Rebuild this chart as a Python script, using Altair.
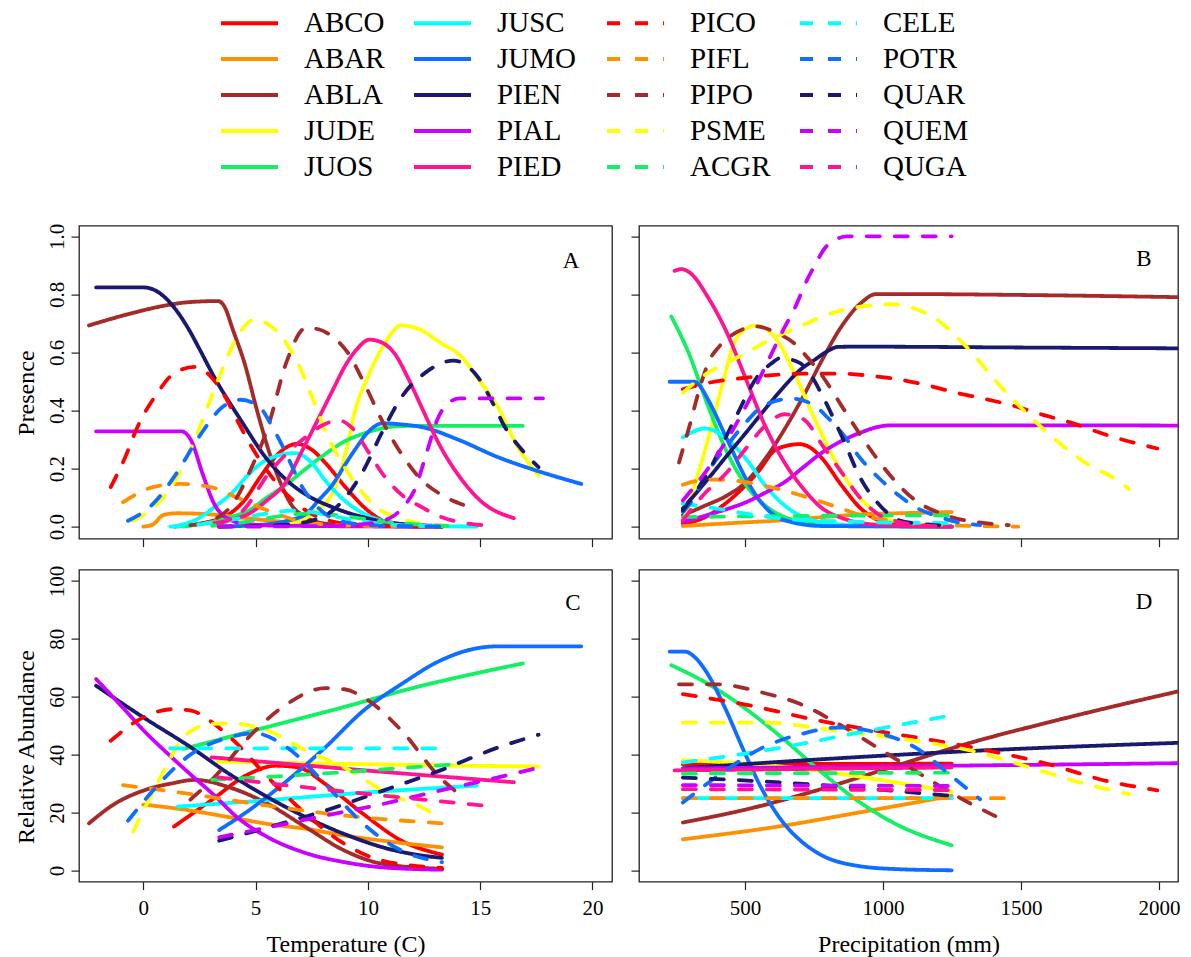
import altair as alt
import pandas as pd

# ---------------- species, colours, dash styles ----------------
SOLID = ["ABCO", "ABAR", "ABLA", "JUDE", "JUOS", "JUSC", "JUMO", "PIEN", "PIAL", "PIED"]
DASHED = ["PICO", "PIFL", "PIPO", "PSME", "ACGR", "CELE", "POTR", "QUAR", "QUEM", "QUGA"]
PALETTE = ["#FF0000", "#FF9000", "#A52A2A", "#FFFF00", "#14F064",
           "#00FFFF", "#0F6EFF", "#191970", "#CC00FF", "#FF1493"]
LEGEND_COLS = [
    ["ABCO", "ABAR", "ABLA", "JUDE", "JUOS"],
    ["JUSC", "JUMO", "PIEN", "PIAL", "PIED"],
    ["PICO", "PIFL", "PIPO", "PSME", "ACGR"],
    ["CELE", "POTR", "QUAR", "QUEM", "QUGA"],
]

# ---------------- A: presence vs temperature ----------------
PRES_TEMP = {
    "ABCO": [(1.37, 0), (2.5, 0.01), (3.84, 0.044), (4.5, 0.09), (5.2, 0.17), (6, 0.25), (6.83, 0.285), (7.5, 0.265), (8.1, 0.22), (9, 0.136), (10, 0.055), (10.8, 0.015), (11.5, 0.004), (13.3, 0)],
    "ABAR": [(0, 0), (0.4, 0.006), (0.9, 0.04), (1.5, 0.046), (3, 0.042), (4.5, 0.03), (6, 0.018), (8, 0.008), (10, 0.003), (13.3, 0)],
    "ABLA": [(-2.42, 0.693), (-1, 0.725), (0, 0.745), (1, 0.762), (2, 0.773), (3.33, 0.777), (3.6, 0.76), (4.0, 0.676), (4.52, 0.56), (5.03, 0.41), (5.55, 0.27), (6.06, 0.16), (6.57, 0.078), (7.25, 0.032), (8.1, 0.01), (9.5, 0.002), (13.3, 0)],
    "JUDE": [(3.33, 0), (6, 0.005), (7, 0.02), (7.6, 0.05), (8.45, 0.12), (9, 0.25), (9.47, 0.41), (10, 0.515), (10.67, 0.62), (11.5, 0.693), (12.4, 0.676), (13.2, 0.635), (14.1, 0.59), (15, 0.5), (15.8, 0.41), (16.6, 0.285), (17.6, 0.176)],
    "JUOS": [(1.79, 0), (3, 0.015), (4, 0.035), (4.69, 0.055), (5.5, 0.1), (6.4, 0.147), (7.25, 0.2), (8.1, 0.25), (9, 0.295), (9.8, 0.32), (11.2, 0.345), (12, 0.347), (16.9, 0.347)],
    "JUSC": [(1.54, 0.003), (2.5, 0.03), (3.16, 0.067), (4, 0.12), (4.69, 0.18), (5.5, 0.23), (6.74, 0.253), (7.5, 0.22), (8.1, 0.159), (8.96, 0.09), (10, 0.038), (11.5, 0.009), (13, 0.002), (14.85, 0)],
    "JUMO": [(3.38, 0), (5, 0.005), (6.4, 0.02), (7.25, 0.044), (7.8, 0.09), (8.45, 0.147), (9, 0.215), (9.47, 0.27), (10, 0.325), (10.67, 0.356), (11.5, 0.352), (12.4, 0.343), (14.1, 0.297), (15.8, 0.239), (17.5, 0.193), (19.5, 0.147)],
    "PIEN": [(-2.1, 0.824), (0, 0.824), (0.5, 0.815), (1, 0.787), (1.5, 0.742), (2, 0.683), (2.5, 0.612), (3.16, 0.515), (4.35, 0.366), (5.55, 0.228), (6.5, 0.152), (7.25, 0.11), (8.45, 0.066), (9.8, 0.032), (11.5, 0.009), (13.3, 0.002)],
    "PIAL": [(-2.1, 0.328), (1.7, 0.328), (2.13, 0.297), (2.65, 0.18), (3.16, 0.078), (3.67, 0.032), (4.5, 0.01), (6, 0.003), (13.3, 0)],
    "PIED": [(3.04, 0.01), (4, 0.025), (4.69, 0.044), (5.5, 0.09), (6.4, 0.159), (7, 0.25), (7.76, 0.366), (8.5, 0.48), (8.96, 0.55), (9.5, 0.61), (10.07, 0.644), (10.6, 0.635), (11.2, 0.595), (11.8, 0.51), (12.4, 0.41), (13.2, 0.28), (14.1, 0.17), (15, 0.09), (16.5, 0.029)],
    "PICO": [(-1.45, 0.136), (-0.8, 0.24), (-0.26, 0.343), (0.6, 0.457), (1.4, 0.53), (2.3, 0.55), (3.16, 0.503), (3.7, 0.44), (4.18, 0.366), (5.2, 0.228), (6.23, 0.124), (7.25, 0.055), (8.6, 0.015), (10, 0.004), (13.3, 0)],
    "PIFL": [(-0.9, 0.084), (0.43, 0.136), (1.62, 0.147), (3, 0.136), (4.18, 0.1), (5.55, 0.055), (7.25, 0.015), (9, 0.004), (13.3, 0)],
    "PIPO": [(2.1, 0.005), (3, 0.02), (4, 0.08), (4.8, 0.2), (5.55, 0.343), (6.4, 0.572), (7.25, 0.685), (7.8, 0.68), (8.45, 0.653), (9.1, 0.6), (9.8, 0.5), (10.6, 0.37), (11.5, 0.25), (12.4, 0.16), (13.2, 0.113), (14.25, 0.075)],
    "PSME": [(-0.45, 0.02), (0.77, 0.09), (1.5, 0.17), (2.13, 0.27), (2.8, 0.4), (3.5, 0.538), (4.18, 0.653), (4.95, 0.713), (5.9, 0.676), (6.9, 0.56), (7.5, 0.45), (8.1, 0.33), (9, 0.2), (9.8, 0.113), (10.6, 0.055), (11.5, 0.026), (13.3, 0.003)],
    "ACGR": [(3.07, 0.003), (4, 0.01), (5, 0.022), (6, 0.035), (7.3, 0.045), (8.5, 0.04), (9.5, 0.03), (11, 0.015), (12.5, 0.006), (14, 0.002)],
    "CELE": [(1.2, 0.0), (2.5, 0.008), (4, 0.025), (5.5, 0.045), (6.6, 0.055), (7.5, 0.05), (8.5, 0.035), (10, 0.015), (11.5, 0.005), (13.3, 0.001)],
    "POTR": [(-0.68, 0.02), (0.43, 0.078), (1.45, 0.18), (2.47, 0.308), (3.5, 0.41), (4.35, 0.437), (5.2, 0.41), (5.7, 0.35), (6.23, 0.273), (7.08, 0.136), (8.1, 0.044), (9, 0.015), (10.5, 0.004), (13.3, 0)],
    "QUAR": [(3.38, 0), (6, 0.005), (7.5, 0.02), (8.5, 0.06), (9.2, 0.12), (9.8, 0.193), (10.6, 0.32), (11.5, 0.446), (12.7, 0.538), (13.8, 0.572), (14.9, 0.515), (15.6, 0.42), (16.1, 0.343), (16.8, 0.27), (17.6, 0.205)],
    "QUEM": [(3.38, 0), (8, 0.002), (10, 0.01), (11, 0.03), (11.6, 0.07), (12.1, 0.13), (12.6, 0.25), (13.1, 0.37), (13.5, 0.42), (14.1, 0.442), (17.8, 0.442)],
    "QUGA": [(3.33, 0.01), (4.5, 0.06), (5.55, 0.18), (6.5, 0.26), (7.25, 0.31), (8, 0.35), (8.7, 0.366), (9.3, 0.34), (10, 0.26), (10.67, 0.18), (11.5, 0.11), (12.4, 0.067), (13.2, 0.035), (14.1, 0.015), (15.6, 0.003)],
}

# ---------------- B: presence vs precipitation ----------------
PRES_PRECIP = {
    "ABCO": [(275, 0.01), (350, 0.03), (435, 0.084), (500, 0.14), (546, 0.187), (615, 0.267), (698, 0.284), (740, 0.27), (781, 0.233), (850, 0.142), (920, 0.062), (1003, 0.016), (1100, 0.003), (1249, 0)],
    "ABAR": [(275, 0.002), (450, 0.012), (643, 0.022), (800, 0.034), (920, 0.042), (1100, 0.047), (1249, 0.05)],
    "ABLA": [(275, 0.039), (350, 0.07), (435, 0.107), (500, 0.15), (573, 0.233), (640, 0.33), (712, 0.45), (780, 0.575), (850, 0.69), (920, 0.77), (975, 0.801), (1100, 0.801), (1500, 0.798), (2100, 0.79)],
    "JUDE": [(275, 0.02), (283, 0.039), (320, 0.15), (366, 0.3), (421, 0.5), (460, 0.63), (500, 0.68), (539, 0.692), (580, 0.678), (615, 0.644), (684, 0.518), (753, 0.37), (823, 0.233), (920, 0.096), (1030, 0.022), (1249, 0)],
    "JUOS": [(233, 0.724), (296, 0.598), (366, 0.416), (435, 0.256), (504, 0.142), (573, 0.073), (643, 0.033), (781, 0.007), (1000, 0.001), (1249, 0)],
    "JUSC": [(275, 0.307), (320, 0.33), (352, 0.338), (390, 0.33), (435, 0.301), (504, 0.233), (573, 0.142), (643, 0.073), (712, 0.033), (781, 0.014), (900, 0.004), (1249, 0)],
    "JUMO": [(227, 0.499), (317, 0.499), (340, 0.48), (366, 0.438), (435, 0.301), (504, 0.164), (573, 0.067), (643, 0.022), (781, 0.002), (1249, 0)],
    "PIEN": [(275, 0.062), (366, 0.164), (435, 0.245), (504, 0.324), (573, 0.405), (643, 0.484), (700, 0.54), (753, 0.575), (800, 0.605), (837, 0.619), (900, 0.62), (1500, 0.617), (2100, 0.614)],
    "PIAL": [(275, 0.016), (400, 0.05), (504, 0.084), (580, 0.12), (643, 0.153), (712, 0.205), (781, 0.256), (850, 0.295), (920, 0.324), (980, 0.343), (1030, 0.349), (1500, 0.349), (2100, 0.348)],
    "PIED": [(245, 0.881), (270, 0.887), (300, 0.875), (366, 0.79), (435, 0.667), (504, 0.507), (573, 0.347), (643, 0.221), (712, 0.13), (781, 0.062), (850, 0.03), (920, 0.012), (1050, 0.003), (1249, 0)],
    "PICO": [(275, 0.473), (366, 0.495), (504, 0.513), (712, 0.527), (850, 0.527), (950, 0.52), (1058, 0.507), (1160, 0.487), (1266, 0.461), (1370, 0.44), (1474, 0.416), (1580, 0.385), (1681, 0.358), (1820, 0.313), (1994, 0.269)],
    "PIFL": [(275, 0.144), (330, 0.158), (393, 0.162), (450, 0.16), (504, 0.153), (573, 0.14), (643, 0.124), (712, 0.105), (781, 0.084), (850, 0.062), (920, 0.039), (1000, 0.025), (1058, 0.016), (1200, 0.006), (1490, 0)],
    "PIPO": [(261, 0.221), (300, 0.35), (338, 0.484), (370, 0.57), (407, 0.621), (470, 0.67), (539, 0.69), (615, 0.667), (680, 0.63), (712, 0.598), (781, 0.518), (850, 0.416), (920, 0.313), (989, 0.221), (1058, 0.142), (1127, 0.084), (1197, 0.05), (1266, 0.028), (1335, 0.016), (1456, 0.005)],
    "PSME": [(275, 0.461), (366, 0.53), (435, 0.565), (504, 0.598), (573, 0.635), (643, 0.667), (712, 0.695), (781, 0.724), (850, 0.745), (920, 0.758), (1030, 0.766), (1127, 0.747), (1200, 0.71), (1266, 0.655), (1335, 0.585), (1404, 0.507), (1474, 0.435), (1543, 0.37), (1612, 0.31), (1681, 0.256), (1750, 0.21), (1820, 0.176), (1891, 0.13)],
    "ACGR": [(275, 0.033), (600, 0.036), (900, 0.038), (1249, 0.039)],
    "CELE": [(275, 0.079), (366, 0.067), (504, 0.045), (643, 0.027), (781, 0.02), (920, 0.016), (1249, 0.012)],
    "POTR": [(275, 0.05), (296, 0.073), (366, 0.19), (435, 0.279), (504, 0.36), (573, 0.42), (670, 0.441), (753, 0.416), (800, 0.375), (850, 0.324), (920, 0.233), (989, 0.164), (1058, 0.107), (1127, 0.062), (1200, 0.035), (1266, 0.016), (1352, 0.005)],
    "QUAR": [(275, 0.056), (366, 0.187), (463, 0.37), (546, 0.518), (600, 0.565), (629, 0.581), (698, 0.564), (740, 0.52), (781, 0.45), (850, 0.313), (920, 0.164), (989, 0.073), (1058, 0.022), (1166, 0.007), (1249, 0.002)],
    "QUEM": [(275, 0.09), (366, 0.2), (435, 0.3), (504, 0.416), (573, 0.55), (640, 0.68), (684, 0.76), (720, 0.84), (753, 0.9), (790, 0.96), (823, 0.986), (870, 1.0), (1249, 1.0)],
    "QUGA": [(275, 0.022), (350, 0.11), (435, 0.187), (504, 0.27), (573, 0.347), (643, 0.387), (712, 0.37), (781, 0.279), (850, 0.187), (920, 0.096), (989, 0.039), (1058, 0.016), (1150, 0.004), (1249, 0)],
}

# ---------------- C: relative abundance vs temperature ----------------
ABUND_TEMP = {
    "ABCO": [(1.37, 15.2), (3, 24.1), (4.69, 33.3), (5.9, 36.2), (6.9, 35.6), (8.1, 29.9), (9.8, 19.5), (11.5, 10.3), (13.3, 5.5)],
    "ABAR": [(0, 22.8), (2.13, 20.7), (3.84, 18.4), (5.55, 16.1), (7.25, 14.4), (8.96, 12.1), (10.67, 10.3), (13.3, 8.0)],
    "ABLA": [(-2.42, 16.3), (-1.28, 23), (0, 27.6), (1.28, 30.1), (2.3, 31.3), (3.84, 28.7), (5.55, 23), (7.25, 14.9), (8.96, 6.9), (10.67, 2.3), (13.3, 0.6)],
    "JUDE": [(3.33, 37.6), (10, 36.7), (17.6, 35.9)],
    "JUOS": [(1.79, 42), (5, 48.5), (8.96, 56.5), (12, 63), (16.9, 71.5)],
    "JUSC": [(1.54, 22.1), (5, 24), (10, 27), (14.85, 29.3)],
    "JUMO": [(3.38, 14.0), (4.69, 20.7), (6.4, 31), (8.1, 42.5), (9.8, 55.2), (11.5, 64.4), (13.2, 72.4), (14.9, 76.8), (15.8, 77.4), (19.5, 77.4)],
    "PIEN": [(-2.1, 63.8), (0, 52.9), (2.13, 42.5), (3.84, 33.3), (5.55, 25.3), (7.25, 18.4), (8.96, 12.6), (10.67, 8.0), (12.4, 5.2), (13.3, 4.4)],
    "PIAL": [(-2.1, 66.1), (-1, 57), (0, 48.5), (1.28, 39), (2.13, 33), (3.16, 26), (4.18, 18.4), (5.55, 11.5), (7.25, 6.0), (8.96, 2.9), (10.67, 1.1), (13.3, 0.3)],
    "PIED": [(3.04, 39.1), (10, 34.5), (16.5, 30.5)],
    "PICO": [(-1.45, 44.8), (0, 52.9), (1.28, 55.7), (2.13, 55.2), (3.16, 50.6), (4.18, 43.7), (5.55, 32.2), (7.25, 19.5), (8.96, 9.2), (10.67, 3.4), (13.3, 0.9)],
    "PIFL": [(-0.9, 29.5), (2.13, 26.4), (5.55, 22.4), (8.96, 19), (13.3, 16.3)],
    "PIPO": [(2.1, 24.5), (3.16, 32.2), (4.69, 46), (6.4, 57.5), (8.1, 63), (8.96, 62.6), (9.8, 59.8), (11.5, 48.3), (13.2, 32.2), (14.25, 25.3)],
    "PSME": [(-0.45, 13.5), (0.77, 32.2), (1.79, 46), (3, 50.6), (3.84, 50.8), (5.55, 48.3), (7.25, 41.4), (8.96, 35.6), (10.67, 27.6), (12.4, 21.8), (13.3, 17.8)],
    "ACGR": [(3.07, 31.3), (8, 33.5), (14, 36.8)],
    "CELE": [(1.2, 42.2), (13.3, 42.2)],
    "POTR": [(-0.68, 17.2), (0.43, 27.6), (2.13, 40.2), (3.84, 46), (4.95, 47.4), (6.4, 42.5), (8.1, 29.9), (9.8, 16.1), (11.5, 6.9), (13.3, 2.9)],
    "QUAR": [(3.38, 10.3), (5.55, 14.9), (8.1, 20.7), (10.67, 27.6), (13.2, 34.5), (15.8, 42.5), (17.6, 46.9)],
    "QUEM": [(3.38, 11.5), (5.55, 14.9), (8.1, 19), (10.67, 23), (13.2, 27.6), (15.8, 32.2), (17.8, 35.9)],
    "QUGA": [(3.33, 32.2), (7.25, 28.7), (10.67, 25.9), (15.6, 22.1)],
}

# ---------------- D: relative abundance vs precipitation ----------------
ABUND_PRECIP = {
    "ABCO": [(275, 36.7), (1249, 36.9)],
    "ABAR": [(275, 10.8), (634, 15.4), (910, 20), (1100, 23.2), (1249, 25.8)],
    "ABLA": [(275, 16.6), (500, 21), (772, 28), (1048, 36.2), (1324, 44.3), (1601, 51.2), (1850, 57), (2100, 62.5)],
    "JUDE": [(275, 38.1), (500, 37), (772, 34.4), (1048, 30.4), (1249, 27.3)],
    "JUOS": [(233, 70.9), (358, 64.9), (496, 56.3), (634, 45.9), (772, 34.4), (910, 24), (1048, 16), (1249, 8.7)],
    "JUSC": [(275, 25), (1249, 25)],
    "JUMO": [(227, 75.6), (282, 75.6), (320, 73.5), (358, 68.9), (427, 56.3), (496, 41.3), (565, 27.5), (634, 17.1), (703, 10.2), (772, 5.6), (910, 1.6), (1050, 0.5), (1249, 0.1)],
    "PIEN": [(275, 35.3), (772, 38.4), (1324, 41.3), (2100, 44.2)],
    "PIAL": [(275, 35.2), (1249, 36.2), (2100, 37.1)],
    "PIED": [(245, 34.6), (1249, 35.6)],
    "PICO": [(275, 60.9), (496, 57.4), (772, 51.7), (1048, 47.1), (1324, 42.5), (1601, 36.7), (1808, 31), (1994, 27.7)],
    "PIFL": [(275, 25), (1490, 25)],
    "PIPO": [(261, 64.3), (399, 64.3), (565, 61.4), (703, 57.4), (841, 50.5), (979, 42.5), (1117, 34.4), (1255, 26.4), (1394, 19.4), (1456, 16.6)],
    "PSME": [(275, 51.1), (565, 51.1), (841, 48.2), (1117, 44.8), (1324, 41.3), (1532, 35.6), (1739, 29.8), (1891, 26.4)],
    "ACGR": [(275, 33.5), (1249, 33.8)],
    "CELE": [(275, 37.3), (634, 42.5), (910, 47.6), (1249, 53.6)],
    "POTR": [(275, 23.5), (427, 34.4), (565, 42.5), (703, 47.1), (841, 49.4), (979, 47.6), (1117, 42.5), (1255, 32.1), (1352, 24.6)],
    "QUAR": [(275, 32.1), (634, 30.4), (1249, 25.8)],
    "QUEM": [(275, 29.5), (1249, 29.2)],
    "QUGA": [(275, 28.1), (1249, 27.8)],
}

# ---------------- axis tick values ----------------
TEMP_TICKS = [0, 5, 10, 15, 20]
PRECIP_TICKS = [500, 1000, 1500, 2000]
PRES_TICKS = [0.0, 0.2, 0.4, 0.6, 0.8, 1.0]
ABUND_TICKS = [0, 20, 40, 60, 80, 100]

# ---------------- derived tables / scales ----------------
COLOR = {s: c for s, c in zip(SOLID, PALETTE)}
COLOR.update({s: c for s, c in zip(DASHED, PALETTE)})
DASH = {s: [1, 0] for s in SOLID}
DASH.update({s: [13, 15] for s in DASHED})
ORDER = [s for col in LEGEND_COLS for s in col]  # legend fills column by column


def frame(curves):
    rows = []
    for sp in SOLID + DASHED:
        for x, y in curves[sp]:
            rows.append({"species": sp, "x": x, "y": y})
    return pd.DataFrame(rows)


LEGEND = dict(
    title=None, orient="none", legendX=140, legendY=-220.4, columns=4, gridAlign="all",
    symbolType="stroke", symbolSize=3249, symbolStrokeWidth=4,
    labelFont="Liberation Serif", labelFontSize=29, labelColor="black",
    labelOffset=24, clipHeight=35.5, rowPadding=0, columnPadding=22,
    padding=0, labelLimit=300,
)

color_enc = alt.Color("species:N", scale=alt.Scale(domain=ORDER, range=[COLOR[s] for s in ORDER]),
                      legend=alt.Legend(**LEGEND))
dash_enc = alt.StrokeDash("species:N", scale=alt.Scale(domain=ORDER, range=[DASH[s] for s in ORDER]),
                          legend=alt.Legend(**LEGEND))

TEMP_DOMAIN = [-2.862, 20.87]
PRECIP_DOMAIN = [116, 2069]
PRES_DOMAIN = [-0.0413, 1.037]
ABUND_DOMAIN = [-3.8, 103.9]


def panel(curves, xdom, ydom, xaxis, yaxis, letter, w, h, lx, ly):
    lines = alt.Chart(frame(curves)).mark_line(
        strokeWidth=3.8, clip=True, interpolate="monotone", strokeCap="round"
    ).encode(
        x=alt.X("x:Q", scale=alt.Scale(domain=xdom, nice=False, zero=False), axis=xaxis),
        y=alt.Y("y:Q", scale=alt.Scale(domain=ydom, nice=False, zero=False), axis=yaxis),
        color=color_enc,
        strokeDash=dash_enc,
    )
    lab = alt.Chart(pd.DataFrame({"label": [letter]})).mark_text(
        font="Liberation Serif", fontSize=23, color="black", align="center", baseline="middle"
    ).encode(x=alt.value(lx), y=alt.value(ly), text="label:N")
    return alt.layer(lines, lab).properties(width=w, height=h)


no_lab_x_temp = alt.Axis(values=TEMP_TICKS, labels=False, title=None)
no_lab_x_prec = alt.Axis(values=PRECIP_TICKS, labels=False, title=None)
no_lab_y_pres = alt.Axis(values=PRES_TICKS, labels=False, title=None)
no_lab_y_abund = alt.Axis(values=ABUND_TICKS, labels=False, title=None)

y_pres = alt.Axis(values=PRES_TICKS, format=".1f", title="Presence",
                  labelAngle=270, labelAlign="center", labelBaseline="alphabetic", labelPadding=7.7,
                  titleAngle=270, titleAlign="center", titleBaseline="alphabetic", titleX=-46, titleY=167)
y_abund = alt.Axis(values=ABUND_TICKS, format="d", title="Relative Abundance",
                   labelAngle=270, labelAlign="center", labelBaseline="alphabetic", labelPadding=7.7,
                   titleAngle=270, titleAlign="center", titleBaseline="alphabetic", titleX=-46, titleY=177)
x_temp = alt.Axis(values=TEMP_TICKS, format="d", title="Temperature (C)",
                  labelBaseline="alphabetic", labelPadding=25,
                  titleAlign="center", titleBaseline="alphabetic", titleX=266.5, titleY=70)
x_prec = alt.Axis(values=PRECIP_TICKS, format="d", title="Precipitation (mm)",
                  labelBaseline="alphabetic", labelPadding=25,
                  titleAlign="center", titleBaseline="alphabetic", titleX=269.5, titleY=70)

pA = panel(PRES_TEMP, TEMP_DOMAIN, PRES_DOMAIN, no_lab_x_temp, y_pres, "A", 533, 313, 492, 35)
pB = panel(PRES_PRECIP, PRECIP_DOMAIN, PRES_DOMAIN, no_lab_x_prec, no_lab_y_pres, "B", 539, 313, 505, 33)
pC = panel(ABUND_TEMP, TEMP_DOMAIN, ABUND_DOMAIN, x_temp, y_abund, "C", 533, 312, 494, 33)
pD = panel(ABUND_PRECIP, PRECIP_DOMAIN, ABUND_DOMAIN, x_prec, no_lab_y_abund, "D", 539, 312, 505, 32)

chart = alt.concat(
    pA, pB, pC, pD, columns=2, spacing={"row": 31, "column": 27}, bounds="flush"
).resolve_scale(
    color="shared", strokeDash="shared"
).properties(
    padding={"left": 13, "top": 4.6, "right": 5, "bottom": 5},
    background="white",
).configure_axis(
    labelFont="Liberation Serif", labelFontSize=21, labelColor="black",
    titleFont="Liberation Serif", titleFontSize=24, titleFontWeight="normal", titleColor="black",
    tickSize=8, tickColor="#222222", tickWidth=1.2, domain=False, grid=False,
).configure_view(
    stroke="#222222", strokeWidth=1.3,
)

chart.save("out.html", embed_options={"renderer": "svg", "actions": False})
